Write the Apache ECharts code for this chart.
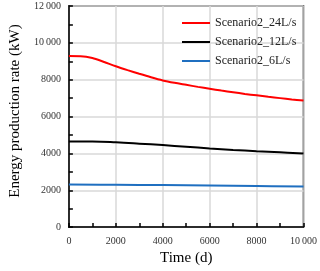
<!DOCTYPE html>
<html><head><meta charset="utf-8">
<script src="https://cdn.jsdelivr.net/npm/echarts@6/dist/echarts.min.js"></script>
<style>html,body{margin:0;padding:0;background:#fff}#c{width:320px;height:271px}</style>
</head><body><div id="c"></div>
<script>
var seriesNames = ['Scenario2_24L/s', 'Scenario2_12L/s', 'Scenario2_6L/s'];
var t24 = [0, 500, 1000, 1500, 2000, 2500, 3000, 3500, 4000, 4500, 5000, 5500, 6000, 6500, 7000, 7500, 8000, 8500, 9000, 9500, 10000];
var v24 = [9280, 9275, 9180, 8960, 8730, 8520, 8320, 8130, 7960, 7830, 7720, 7610, 7510, 7410, 7320, 7230, 7150, 7070, 7000, 6930, 6870];
var t12 = [0, 1000, 2000, 3000, 4000, 5000, 6000, 7000, 8000, 9000, 10000];
var v12 = [4640, 4640, 4600, 4530, 4450, 4360, 4270, 4190, 4120, 4060, 4000];
var t6 = [0, 2000, 4000, 6000, 8000, 10000];
var v6 = [2310, 2300, 2280, 2260, 2230, 2200];
var colors = ['#ff0000', '#000000', '#1f6fc0'];

function pairs(t, v) { return t.map(function (x, i) { return [x, v[i]]; }); }
function fmt(v) { return v >= 10000 ? String(v).replace(/(\d{2})(\d{3})$/, '$1\u2009$2') : String(v); }

var font = 'Liberation Serif';
var chart = echarts.init(document.getElementById('c'));
chart.setOption({
  animation: false,
  grid: { left: 56, right: 15, top: 6, bottom: 43, show: true, borderColor: '#000', borderWidth: 1.5, backgroundColor: 'transparent' },
  legend: {
    orient: 'vertical', left: 177, top: 12, itemWidth: 28, itemHeight: 2, itemGap: 7,
    icon: 'rect',
    textStyle: { fontFamily: font, fontSize: 12, color: '#222' },
    data: seriesNames
  },
  xAxis: {
    type: 'value', min: 0, max: 10000, interval: 2000,
    name: 'Time (d)', nameLocation: 'middle', nameGap: 23,
    nameTextStyle: { fontFamily: font, fontSize: 15, color: '#000' },
    axisLine: { lineStyle: { color: '#000', width: 1.5 } },
    axisTick: { inside: true, length: 4, lineStyle: { color: '#000', width: 1.5 } },
    minorTick: { show: true, splitNumber: 2, length: 4, lineStyle: { color: '#000', width: 1.5 } },
    axisLabel: { fontFamily: font, fontSize: 10, color: '#333', margin: 9, formatter: fmt },
    splitLine: { lineStyle: { color: '#d9d9d9', width: 1.5 } }
  },
  yAxis: {
    type: 'value', min: 0, max: 12000, interval: 2000,
    name: 'Energy production rate (kW)', nameLocation: 'middle', nameGap: 32,
    nameTextStyle: { fontFamily: font, fontSize: 15, color: '#000', padding: [0, 0, 0, 11] },
    axisLine: { lineStyle: { color: '#000', width: 1.5 } },
    axisTick: { inside: true, length: 4, lineStyle: { color: '#000', width: 1.5 } },
    minorTick: { show: true, splitNumber: 2, length: 4, lineStyle: { color: '#000', width: 1.5 } },
    axisLabel: { fontFamily: font, fontSize: 10, color: '#333', margin: 8, formatter: fmt },
    splitLine: { lineStyle: { color: '#d9d9d9', width: 1.5 } }
  },
  series: [
    { name: seriesNames[0], type: 'line', smooth: 0.3, showSymbol: false, data: pairs(t24, v24), lineStyle: { color: colors[0], width: 2 }, itemStyle: { color: colors[0] } },
    { name: seriesNames[1], type: 'line', smooth: 0.4, showSymbol: false, data: pairs(t12, v12), lineStyle: { color: colors[1], width: 2 }, itemStyle: { color: colors[1] } },
    { name: seriesNames[2], type: 'line', smooth: 0.4, showSymbol: false, data: pairs(t6, v6), lineStyle: { color: colors[2], width: 2 }, itemStyle: { color: colors[2] } }
  ]
});
</script></body></html>
